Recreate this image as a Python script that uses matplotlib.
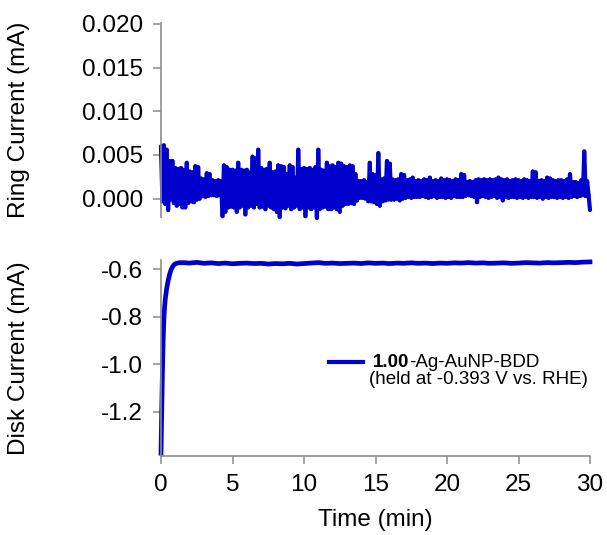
import numpy as np
import matplotlib
matplotlib.use("Agg")
import matplotlib.pyplot as plt
from matplotlib.collections import LineCollection

plt.rcParams['font.family'] = ['Liberation Sans', 'DejaVu Sans']
plt.rcParams['path.simplify'] = False

# Ring current (mA), sampled every 0.1 min from 0 to 30 min
ring_current = [
    0.0060, -0.0003, 0.0061, -0.0006, 0.0056, -0.0013, 0.0043, -0.0001, 0.0043, -0.0005,
    0.0035, -0.0008, 0.0034, -0.0006, 0.0035, -0.0010, 0.0033, -0.0010, 0.0041, -0.0005,
    0.0031, -0.0003, 0.0030, -0.0004, 0.0037, -0.0001, 0.0036, 0.0000, 0.0023, 0.0003,
    0.0022, 0.0002, 0.0029, 0.0003, 0.0028, 0.0004, 0.0021, 0.0004, 0.0020, 0.0003,
    0.0021, 0.0004, 0.0020, -0.0020, 0.0038, -0.0015, 0.0036, -0.0010, 0.0033, -0.0009,
    0.0033, -0.0010, 0.0032, -0.0015, 0.0041, -0.0010, 0.0033, -0.0008, 0.0032, -0.0018,
    0.0033, -0.0010, 0.0030, -0.0008, 0.0048, -0.0010, 0.0046, -0.0006, 0.0056, -0.0010,
    0.0035, -0.0009, 0.0033, -0.0012, 0.0034, -0.0008, 0.0041, -0.0010, 0.0030, -0.0012,
    0.0031, -0.0015, 0.0038, -0.0021, 0.0037, -0.0010, 0.0036, -0.0011, 0.0028, -0.0008,
    0.0038, -0.0012, 0.0036, -0.0010, 0.0024, -0.0008, 0.0056, -0.0012, 0.0034, -0.0010,
    0.0035, -0.0020, 0.0034, -0.0010, 0.0035, -0.0012, 0.0033, -0.0010, 0.0036, -0.0022,
    0.0056, -0.0012, 0.0033, -0.0010, 0.0032, -0.0009, 0.0041, -0.0012, 0.0037, -0.0012,
    0.0038, -0.0010, 0.0036, -0.0012, 0.0041, -0.0015, 0.0040, -0.0008, 0.0037, -0.0006,
    0.0036, -0.0006, 0.0038, -0.0005, 0.0037, -0.0006, 0.0028, -0.0002, 0.0020, 0.0001,
    0.0020, 0.0001, 0.0021, 0.0000, 0.0019, -0.0003, 0.0041, -0.0003, 0.0028, -0.0004,
    0.0027, -0.0006, 0.0052, -0.0008, 0.0022, -0.0003, 0.0023, -0.0002, 0.0043, -0.0001,
    0.0040, -0.0001, 0.0022, -0.0001, 0.0021, 0.0000, 0.0022, -0.0002, 0.0028, 0.0000,
    0.0027, 0.0001, 0.0021, 0.0002, 0.0022, 0.0001, 0.0024, 0.0002, 0.0020, 0.0002,
    0.0021, 0.0002, 0.0020, 0.0003, 0.0022, 0.0002, 0.0021, 0.0001, 0.0024, 0.0002,
    0.0020, 0.0003, 0.0021, 0.0001, 0.0020, 0.0002, 0.0023, 0.0002, 0.0021, 0.0001,
    0.0022, 0.0002, 0.0021, 0.0001, 0.0020, 0.0003, 0.0022, 0.0002, 0.0021, 0.0002,
    0.0028, 0.0002, 0.0027, 0.0003, 0.0019, 0.0004, 0.0020, 0.0003, 0.0019, 0.0002,
    0.0021, -0.0004, 0.0022, 0.0002, 0.0021, 0.0003, 0.0022, 0.0002, 0.0021, 0.0001,
    0.0022, 0.0002, 0.0021, 0.0003, 0.0022, 0.0001, 0.0024, 0.0002, 0.0022, -0.0002,
    0.0021, 0.0002, 0.0022, 0.0001, 0.0020, 0.0002, 0.0021, 0.0002, 0.0022, 0.0001,
    0.0021, 0.0002, 0.0020, 0.0001, 0.0022, 0.0002, 0.0021, 0.0001, 0.0020, 0.0002,
    0.0031, 0.0002, 0.0030, 0.0001, 0.0020, 0.0002, 0.0021, 0.0000, 0.0020, 0.0002,
    0.0024, 0.0001, 0.0023, 0.0002, 0.0021, 0.0002, 0.0020, 0.0001, 0.0021, 0.0002,
    0.0021, 0.0001, 0.0020, 0.0002, 0.0022, 0.0001, 0.0028, 0.0002, 0.0019, 0.0003,
    0.0019, 0.0002, 0.0018, 0.0003, 0.0021, 0.0004, 0.0054, 0.0003, 0.0020, 0.0004,
    -0.0013,
]
ring_time = np.arange(len(ring_current)) * 0.1

# Disk current (mA) during the potential hold
disk_time = [0.0, 0.05, 0.1, 0.15, 0.2, 0.25, 0.3, 0.4, 0.5, 0.6, 0.7, 0.8, 0.9, 1.0,
             1.2, 1.5, 2.0, 2.5, 3.0, 3.5, 4.0, 4.5, 5.0, 5.5, 6.0, 6.5, 7.0, 7.5,
             8.0, 8.5, 9.0, 9.5, 10.0, 10.5, 11.0, 11.5, 12.0, 12.5, 13.0, 13.5,
             14.0, 14.5, 15.0, 15.5, 16.0, 16.5, 17.0, 17.5, 18.0, 18.5, 19.0, 19.5,
             20.0, 20.5, 21.0, 21.5, 22.0, 22.5, 23.0, 23.5, 24.0, 24.5, 25.0, 25.5,
             26.0, 26.5, 27.0, 27.5, 28.0, 28.5, 29.0, 29.5, 30.0]
disk_current = [-1.375, -1.20, -1.03, -0.90, -0.81, -0.76, -0.725, -0.680, -0.648, -0.622,
                -0.603, -0.590, -0.582, -0.577,
                -0.573, -0.572, -0.574, -0.571, -0.575, -0.573, -0.576, -0.574, -0.577, -0.575,
                -0.574, -0.576, -0.575, -0.578, -0.576, -0.577, -0.575, -0.578, -0.576, -0.574,
                -0.572, -0.575, -0.574, -0.576, -0.575, -0.574, -0.576, -0.573, -0.575, -0.574,
                -0.576, -0.574, -0.575, -0.573, -0.575, -0.574, -0.576, -0.574, -0.575, -0.573,
                -0.574, -0.572, -0.574, -0.573, -0.575, -0.574, -0.573, -0.575, -0.574, -0.572,
                -0.573, -0.574, -0.572, -0.573, -0.572, -0.571, -0.572, -0.570, -0.569]

x_ticks = [0, 5, 10, 15, 20, 25, 30]
ring_ticks = [0.000, 0.005, 0.010, 0.015, 0.020]
disk_ticks = [-1.2, -1.0, -0.8, -0.6]

blue = '#0000CC'
gray = '#8C8C8C'
fs = 17.5
legend_fs = 13.5

fig = plt.figure(figsize=(6.07, 5.35), dpi=100)
ax_ring = fig.add_axes([161 / 607, 1 - 217 / 535, 429 / 607, 194 / 535])
ax_disk = fig.add_axes([161 / 607, 1 - 456 / 535, 429 / 607, 196 / 535])

# Ring trace: consecutive samples joined segment by segment so the dense
# oscillation renders as a solid band
ring_pts = np.column_stack([ring_time, ring_current])
ring_segments = np.stack([ring_pts[:-1], ring_pts[1:]], axis=1)
ring_lc = LineCollection(ring_segments, colors=blue, linewidths=3.0,
                         capstyle='round', joinstyle='round', clip_on=False)
ax_ring.add_collection(ring_lc)

ax_disk.plot(disk_time, disk_current, color=blue, lw=3.4, solid_joinstyle='round', clip_on=False)

for ax in (ax_ring, ax_disk):
    ax.set_xlim(0, 30)
    for side in ('top', 'right'):
        ax.spines[side].set_visible(False)
    ax.spines['left'].set_color(gray)
    ax.spines['bottom'].set_color(gray)
    ax.spines['left'].set_linewidth(1.2)
    ax.spines['bottom'].set_linewidth(1.2)
    ax.tick_params(direction='out', length=6, width=1.1, color=gray,
                   labelsize=fs, pad=7, labelcolor='black')

ax_ring.spines['bottom'].set_visible(False)
ax_ring.set_xticks([])
ax_ring.set_ylim(-0.0021, 0.0201)
ax_ring.set_yticks(ring_ticks)
ax_ring.set_yticklabels([f"{v:.3f}" for v in ring_ticks])
ax_ring.set_ylabel('Ring Current (mA)', fontsize=fs)
ax_ring.yaxis.set_label_coords(-0.305, 0.5)

ax_disk.set_ylim(-1.387, -0.561)
ax_disk.set_yticks(disk_ticks)
ax_disk.set_yticklabels([f"{v:.1f}" for v in disk_ticks])
ax_disk.set_xticks(x_ticks)
ax_disk.set_ylabel('Disk Current (mA)', fontsize=fs)
ax_disk.yaxis.set_label_coords(-0.305, 0.5)
ax_disk.set_xlabel('Time (min)', fontsize=fs)
ax_disk.xaxis.set_label_coords(0.5, -0.27)

# Legend entry: line sample plus mixed-weight label
ax_disk.plot([0.392, 0.471], [0.481, 0.481], color=blue, lw=3.0,
             transform=ax_disk.transAxes, clip_on=False)
t_bold = ax_disk.text(0.493, 0.456, '1.00', transform=ax_disk.transAxes,
                      fontsize=legend_fs, fontweight='bold', va='baseline', ha='left')
ax_disk.annotate('-Ag-AuNP-BDD', xy=(1, 0), xycoords=t_bold, fontsize=legend_fs,
                 va='bottom', ha='left')
ax_disk.text(0.486, 0.366, '(held at -0.393 V vs. RHE)', transform=ax_disk.transAxes,
             fontsize=legend_fs, va='baseline', ha='left')

fig.savefig('out.png', dpi=100)
